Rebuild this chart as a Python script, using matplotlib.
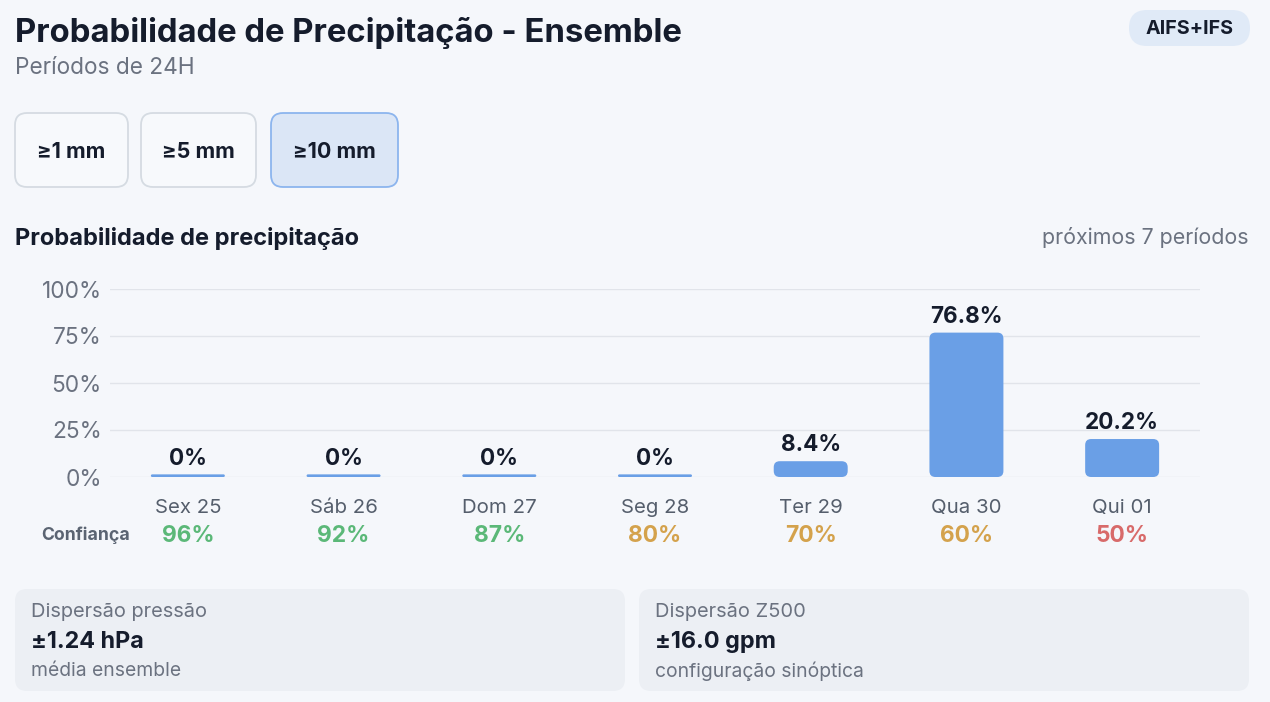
import matplotlib
matplotlib.use("Agg")
import matplotlib.pyplot as plt
from matplotlib.patches import FancyBboxPatch
import matplotlib.transforms as mtransforms

# data
days = ["Sex 25", "Sáb 26", "Dom 27", "Seg 28", "Ter 29", "Qua 30", "Qui 01"]
prob = [0, 0, 0, 0, 8.4, 76.8, 20.2]
confidence = [96, 92, 87, 80, 70, 60, 50]
y_ticks = [0, 25, 50, 75, 100]
thresholds = ["≥1 mm", "≥5 mm", "≥10 mm"]
selected = "≥10 mm"
cards = [("Dispersão pressão", "±1.24 hPa", "média ensemble"),
         ("Dispersão Z500", "±16.0 gpm", "configuração sinóptica")]

W, H = 1270, 702
BG = "#f5f7fb"
DARK = "#151c2c"
GRAY = "#6b7280"
BAR = "#6a9fe6"

plt.rcParams["font.family"] = ["Inter", "DejaVu Sans"]

fig = plt.figure(figsize=(W / 100, H / 100), dpi=100)
fig.patch.set_facecolor(BG)

# overlay in pixel coordinates for header, buttons and cards
ov = fig.add_axes([0, 0, 1, 1], zorder=0)
ov.set_xlim(0, W)
ov.set_ylim(H, 0)
ov.axis("off")


def rbox(x0, y0, x1, y1, r, fc, ec="none", lw=1.0):
    p = FancyBboxPatch((x0, y0), x1 - x0, y1 - y0,
                       boxstyle=f"round,pad=0,rounding_size={r}",
                       fc=fc, ec=ec, lw=lw)
    ov.add_patch(p)


# header
ov.text(15, 33, "Probabilidade de Precipitação - Ensemble", fontsize=23.7,
        fontweight="bold", color=DARK, va="center", ha="left")
ov.text(15, 68, "Períodos de 24H", fontsize=16.3, color=GRAY, va="center", ha="left")
rbox(1129, 10, 1250, 46, 18, "#e0eaf7")
ov.text(1189.5, 29.5, "AIFS+IFS", fontsize=14.2, fontweight="bold", color=DARK,
        ha="center", va="center")

# threshold buttons
btn_x = [(15, 128), (141, 256), (271, 398)]
for (x0, x1), lab in zip(btn_x, thresholds):
    if lab == selected:
        rbox(x0, 113, x1, 187, 12, "#dbe6f6", "#8cb5ee", 1.3)
    else:
        rbox(x0, 113, x1, 187, 12, "#f7f9fc", "#d5dbe2", 1.3)
    ov.text((x0 + x1) / 2, 152, lab, fontsize=15.5, fontweight="bold", color=DARK,
            ha="center", va="center")

# section heading
ov.text(15, 238, "Probabilidade de precipitação", fontsize=17, fontweight="bold",
        color=DARK, ha="left", va="center")
ov.text(1249, 238, "próximos 7 períodos", fontsize=15.4, color=GRAY,
        ha="right", va="center")

# bottom cards
for i, (t, v, s) in enumerate(cards):
    x0 = 15 + i * 624
    rbox(x0, 589, x0 + 610, 691, 12, "#eceff4")
    ov.text(x0 + 16, 612, t, fontsize=14.4, color=GRAY, va="center")
    ov.text(x0 + 16, 642, v, fontsize=16.8, fontweight="bold", color=DARK, va="center")
    ov.text(x0 + 16, 671, s, fontsize=13.9, color=GRAY, va="center")

ov.text(86, 535, "Confiança", fontsize=12.7, fontweight="bold", color="#5b6472",
        ha="center", va="center")

# chart
ax = fig.add_axes([110 / W, 1 - 477 / H, 1090 / W, 188 / H], zorder=1)
ax.set_facecolor("none")
ax.set_xlim(-0.5, len(days) - 0.5)
ax.set_ylim(0, 100)
for s in ax.spines.values():
    s.set_visible(False)
ax.set_yticks(y_ticks)
ax.set_yticklabels([f"{v}%" for v in y_ticks])
ax.tick_params(axis="y", length=0, pad=6, labelsize=16.3, labelcolor=GRAY)
ax.set_xticks(range(len(days)))
ax.set_xticklabels(days)
ax.tick_params(axis="x", length=0, pad=16, labelsize=14.7, labelcolor="#555e6c")
ax.yaxis.grid(True, color="#e1e4ea", lw=1.0)
ax.set_axisbelow(True)

bar_w = 0.475
# px per data unit, for rounding corners
px_x = 1090 / len(days)
px_y = 188 / 100
for i, v in enumerate(prob):
    h = max(v, 1.4)  # zero bars still show a thin sliver
    r_px = min(6, h * px_y / 2)
    p = FancyBboxPatch((i - bar_w / 2, 0), bar_w, h,
                       boxstyle=f"round,pad=0,rounding_size={r_px / px_x}",
                       mutation_aspect=px_x / px_y, fc=BAR, ec="none", zorder=3)
    ax.add_patch(p)
    lab = "0%" if v == 0 else f"{v:.1f}%"
    ax.annotate(lab, (i, h), xytext=(0, 3.5), textcoords="offset points",
                ha="center", va="bottom", fontsize=16.2, fontweight="bold",
                color=DARK, annotation_clip=False)


def conf_color(c):
    if c >= 85:
        return "#5bb878"
    if c >= 60:
        return "#d4a24c"
    return "#d86a6a"


trans = mtransforms.blended_transform_factory(ax.transData, ov.transData)
for i, c in enumerate(confidence):
    ax.text(i, 536, f"{c}%", transform=trans, fontsize=16.4, fontweight="bold",
            color=conf_color(c), ha="center", va="center", clip_on=False)

fig.savefig("out.png", dpi=100, facecolor=BG)
